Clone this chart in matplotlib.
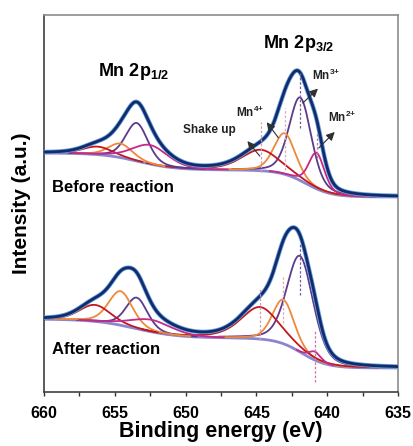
import numpy as np
import matplotlib
matplotlib.use("Agg")
import matplotlib.pyplot as plt
from matplotlib.ticker import MultipleLocator

plt.rcParams['font.family'] = ['Liberation Sans', 'DejaVu Sans']
plt.rcParams['font.weight'] = 'bold'
plt.rcParams['mathtext.fontset'] = 'custom'
plt.rcParams['mathtext.rm'] = 'Liberation Sans:bold'
plt.rcParams['mathtext.bf'] = 'Liberation Sans:bold'
plt.rcParams['mathtext.it'] = 'Liberation Sans:bold:italic'
plt.rcParams['mathtext.default'] = 'rm'

# ---------------- data (peak-fit parameters) ----------------
components = ["Mn3+ 2p3/2", "Mn4+ 2p3/2", "Shake up", "Mn2+ 2p3/2",
              "Mn3+ 2p1/2", "Mn4+ 2p1/2", "Shake up 2p1/2", "Mn2+ 2p1/2"]
comp_colors = ["#5B3B8C", "#F0883A", "#C0181E", "#C42A8A",
               "#5B3B8C", "#F0883A", "#C0181E", "#C42A8A"]
lorentz_frac = [0.3, 0.3, 0.5, 0.3, 0.3, 0.3, 0.3, 0.3]

# Before reaction
before_centers = [641.9, 643.0, 644.7, 640.75, 653.45, 654.6, 656.2, 652.5]
before_heights = [83, 41, 21, 36, 38, 14, 8, 19]
before_fwhm = [1.85, 1.8, 3.2, 1.3, 1.85, 2.0, 2.5, 3.0]
before_bg = dict(base=195, step32=27, c32=641.5, w32=0.9, step12=17, c12=653.3, w12=1.3)

# After reaction
after_centers = [641.92, 643.1, 644.75, 640.86, 653.45, 654.6, 656.4, 652.4]
after_heights = [96, 44, 32, 8.5, 31, 34, 16.5, 12]
after_fwhm = [2.2, 1.8, 3.2, 1.0, 1.8, 2.0, 2.6, 3.5]
after_bg = dict(base=24, step32=30, c32=641.8, w32=0.9, step12=19, c12=653.5, w12=1.5)

# guide (dashed) lines for the 2p3/2 components: (low, high) intensity
before_guides = [(264, 320), (222, 284), (220, 270), (234, 260)]
after_guides = [(97, 149), (69, 115), (52, 104), (10, 61)]
guide_colors = ["#7A5A9A", "#E2A6B4", "#D89AA8", "#D070A8"]

xticks = [660, 655, 650, 645, 640, 635]

# ---------------- model curves ----------------
x = np.linspace(635, 660, 1501)


def sig(v, c, w):
    return 1.0 / (1.0 + np.exp(-(v - c) / w))


def background(p):
    return p['base'] + p['step32'] * sig(x, p['c32'], p['w32']) + p['step12'] * sig(x, p['c12'], p['w12'])


def pvoigt(c, h, f, eta):
    d2 = (x - c) ** 2 / f ** 2
    g = np.exp(-4 * np.log(2) * d2)
    l = 1.0 / (1.0 + 4 * d2)
    return h * (eta * l + (1 - eta) * g)


fig = plt.figure(figsize=(4.13, 4.46), dpi=100)
ax = fig.add_axes([44 / 413, 1 - 392 / 446, 354 / 413, 377 / 446])


def draw(centers, heights, fwhms, bgp, guides):
    bg = background(bgp)
    env = bg.copy()
    for c, h, f, eta, col in zip(centers, heights, fwhms, lorentz_frac, comp_colors):
        g = pvoigt(c, h, f, eta)
        env += g
        mask = (np.abs(x - c) < 2.6 * f) & (g > 0.4)
        ax.plot(x[mask], (bg + g)[mask], color=col, lw=1.3, zorder=3)
    ax.plot(x, bg, color="#8A86CF", lw=2.0, zorder=2)
    ax.plot(x, env, color="#5FA3DC", lw=3.2, zorder=4)
    ax.plot(x, env, color="#15296B", lw=2.0, zorder=5)
    for c, (lo, hi), gc in zip(centers[:4], guides, guide_colors):
        ax.plot([c, c], [lo, hi], color=gc, lw=0.9, ls=(0, (2, 1.5)), zorder=6)


draw(before_centers, before_heights, before_fwhm, before_bg, before_guides)
draw(after_centers, after_heights, after_fwhm, after_bg, after_guides)

ax.set_xlim(660, 635)
ax.set_ylim(0, 377)
ax.set_yticks([])
ax.set_xticks(xticks)
ax.set_xticklabels([str(t) for t in xticks], fontsize=11.5, fontweight='bold')
ax.xaxis.set_minor_locator(MultipleLocator(2.5))
ax.tick_params(axis='x', which='both', direction='out', length=3, width=1, color='#303030', pad=7)
ax.set_xlabel("Binding energy (eV)", fontsize=15.5, fontweight='bold', labelpad=0)
ax.set_ylabel("Intensity (a.u.)", fontsize=15, fontweight='bold', labelpad=9)
for side in ['left', 'bottom']:
    ax.spines[side].set_color('#404040')
    ax.spines[side].set_linewidth(1.2)
for side in ['top', 'right']:
    ax.spines[side].set_color('#8C8C8C')
    ax.spines[side].set_linewidth(1.2)

# titles and labels
ax.text(653.7, 320, r"Mn 2p$_{\mathit{1/2}}$", fontsize=13, fontweight='bold', ha='center', va='center')
ax.text(642.0, 349, r"Mn 2p$_{\mathit{3/2}}$", fontsize=13, fontweight='bold', ha='center', va='center')
ax.text(659.4, 204, "Before reaction", fontsize=12, fontweight='bold', ha='left', va='center')
ax.text(659.4, 42, "After reaction", fontsize=12, fontweight='bold', ha='left', va='center')

arrow_kw = dict(arrowstyle='-|>,head_length=0.5,head_width=0.25', color='#303030', lw=0.8)
annots = [
    ("Shake up", (644.63, 233.7), (645.76, 253), (648.3, 262)),
    (r"Mn$^{4{+}}$", (643.33, 252), (644.39, 272), (645.45, 280)),
    (r"Mn$^{3{+}}$", (641.87, 287), (640.51, 305.3), (640.05, 317)),
    (r"Mn$^{2{+}}$", (640.74, 242), (639.33, 262), (638.92, 275)),
]
for label, tail, head, pos in annots:
    ax.annotate('', xy=head, xytext=tail, arrowprops=arrow_kw, zorder=7)
    ax.text(pos[0], pos[1], label, fontsize=8.5, fontweight='bold', ha='center', va='center', color='#222222')

fig.savefig("out.png", dpi=100)
